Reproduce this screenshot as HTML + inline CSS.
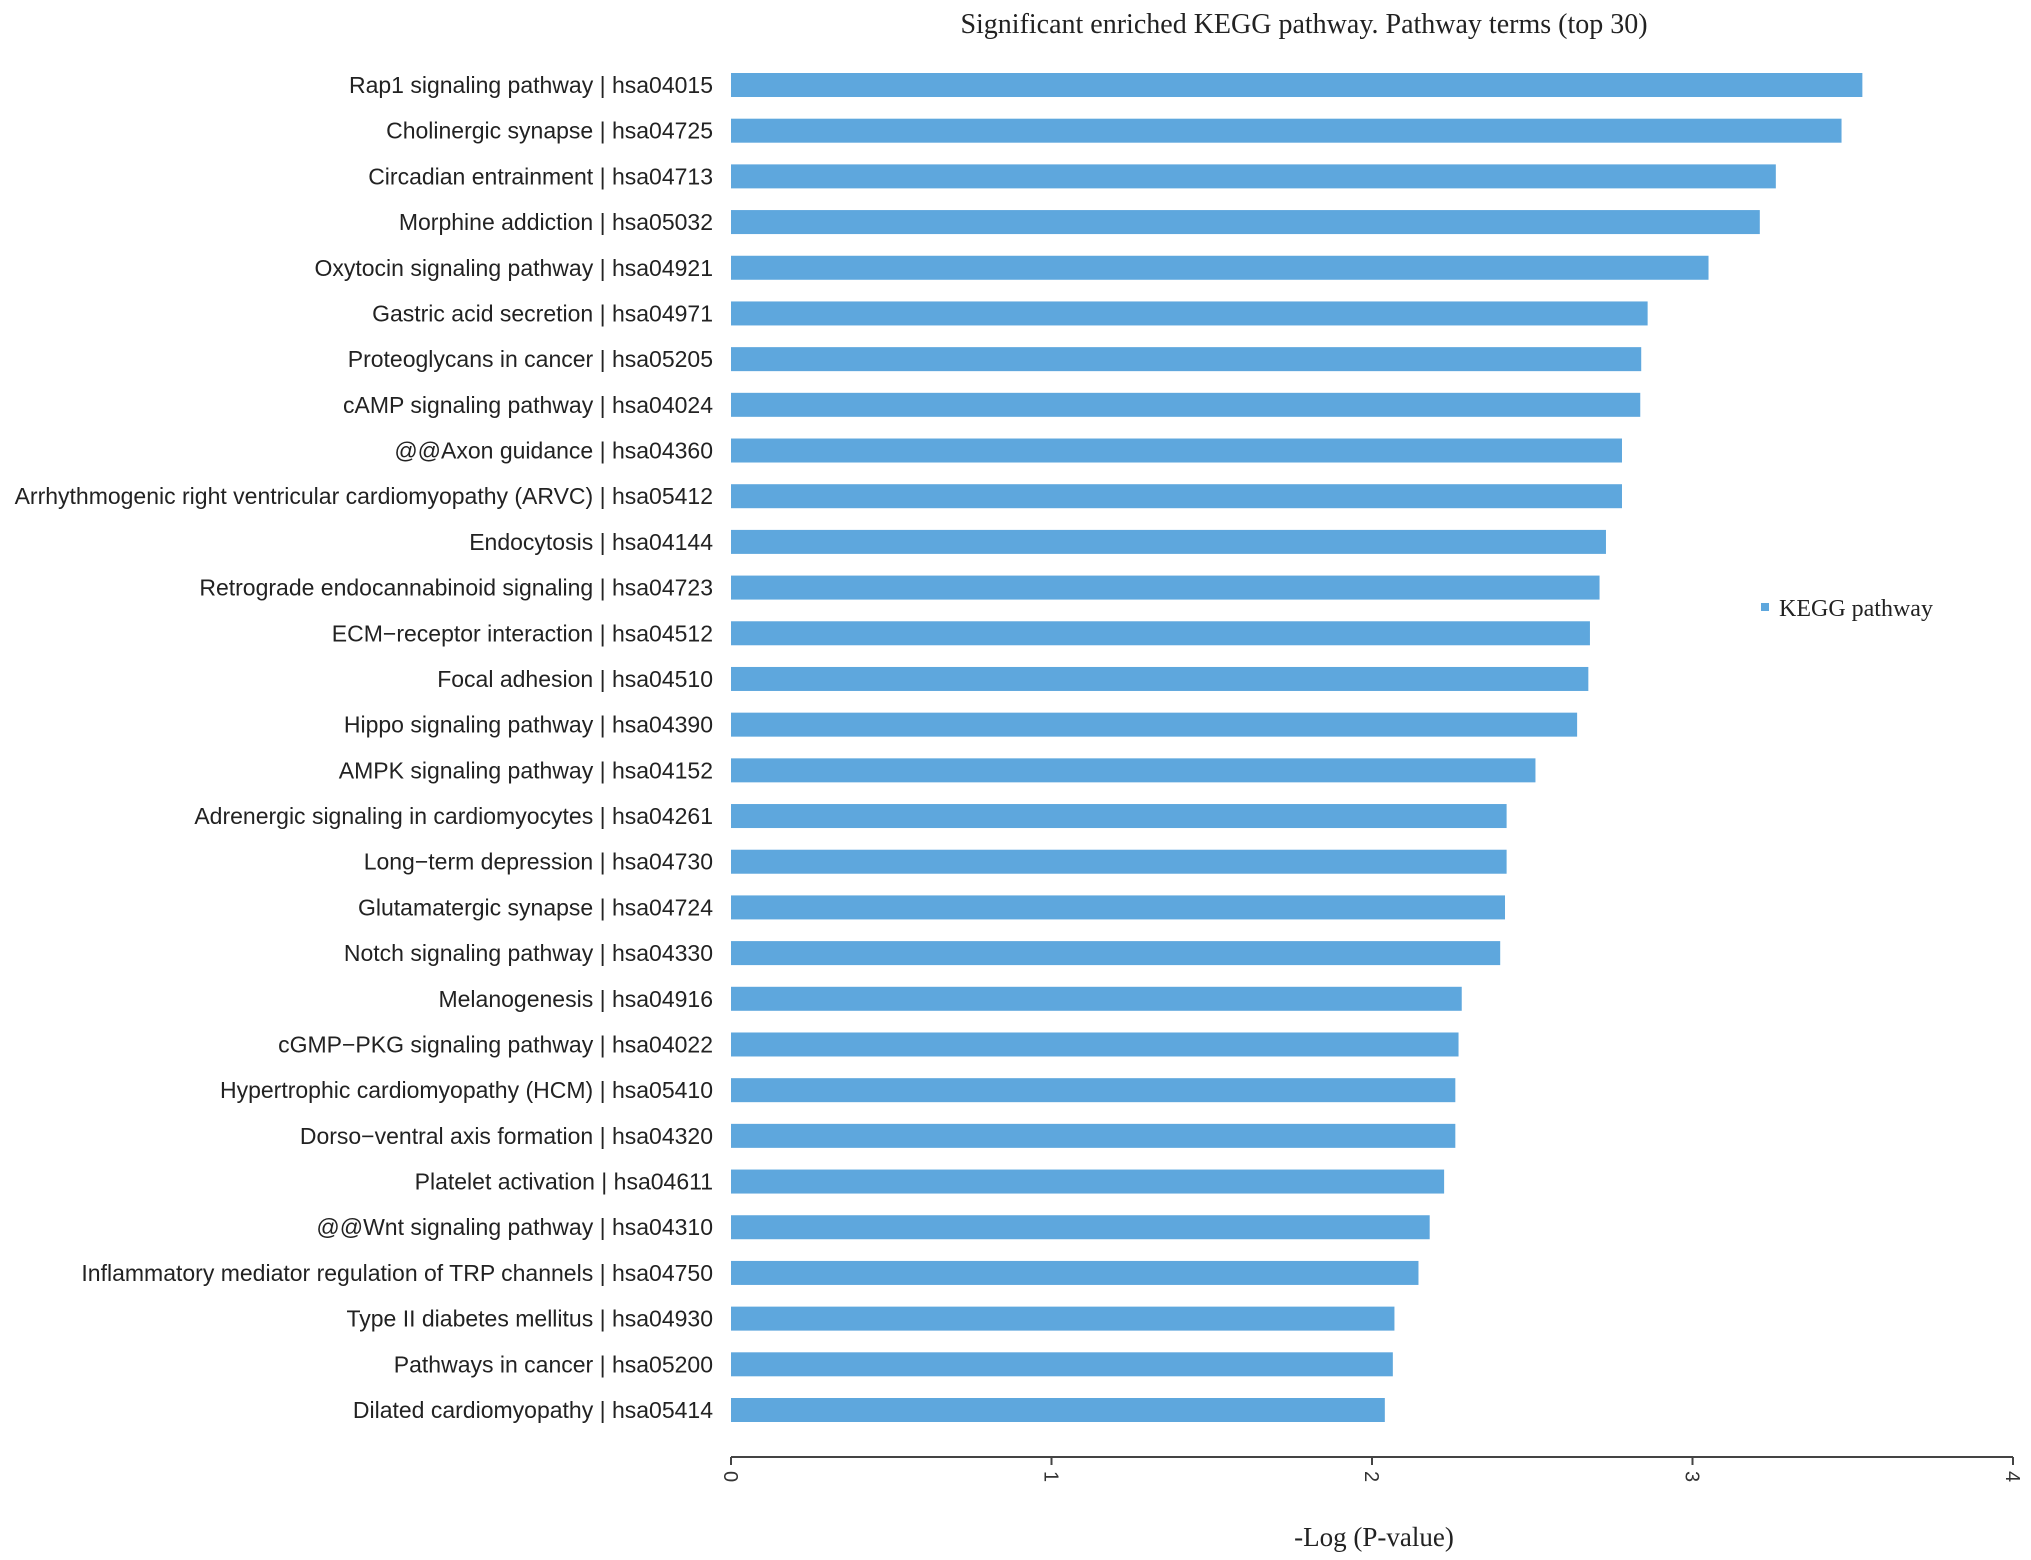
<!DOCTYPE html>
<html><head><meta charset="utf-8"><style>
body{margin:0;background:#fff;}
svg{display:block;}
</style></head><body>
<svg id="chart" width="2031" height="1560" xmlns="http://www.w3.org/2000/svg">
<text x="1304" y="33" text-anchor="middle" font-family="Liberation Serif, serif" font-size="28" fill="#222">Significant enriched KEGG pathway. Pathway terms (top 30)</text>
<g id="bars"></g>
<g id="axis"></g>
<g>
<rect x="1761" y="603" width="8" height="8" fill="#5ea7dd"/>
<text x="1779" y="616" font-family="Liberation Serif, serif" font-size="24" fill="#222">KEGG pathway</text>
</g>
<text x="1374" y="1546" text-anchor="middle" font-family="Liberation Serif, serif" font-size="27" fill="#222">-Log  (P-value)</text>
</svg>
<script>
const categories=["Rap1 signaling pathway | hsa04015","Cholinergic synapse | hsa04725","Circadian entrainment | hsa04713","Morphine addiction | hsa05032","Oxytocin signaling pathway | hsa04921","Gastric acid secretion | hsa04971","Proteoglycans in cancer | hsa05205","cAMP signaling pathway | hsa04024","@@Axon guidance | hsa04360","Arrhythmogenic right ventricular cardiomyopathy (ARVC) | hsa05412","Endocytosis | hsa04144","Retrograde endocannabinoid signaling | hsa04723","ECM\u2212receptor interaction | hsa04512","Focal adhesion | hsa04510","Hippo signaling pathway | hsa04390","AMPK signaling pathway | hsa04152","Adrenergic signaling in cardiomyocytes | hsa04261","Long\u2212term depression | hsa04730","Glutamatergic synapse | hsa04724","Notch signaling pathway | hsa04330","Melanogenesis | hsa04916","cGMP\u2212PKG signaling pathway | hsa04022","Hypertrophic cardiomyopathy (HCM) | hsa05410","Dorso\u2212ventral axis formation | hsa04320","Platelet activation | hsa04611","@@Wnt signaling pathway | hsa04310","Inflammatory mediator regulation of TRP channels | hsa04750","Type II diabetes mellitus | hsa04930","Pathways in cancer | hsa05200","Dilated cardiomyopathy | hsa05414"];
const values=[3.53,3.465,3.26,3.21,3.05,2.86,2.84,2.837,2.78,2.78,2.73,2.71,2.68,2.675,2.64,2.51,2.42,2.42,2.415,2.40,2.28,2.27,2.26,2.26,2.225,2.18,2.145,2.07,2.065,2.04];
const ticks=[0,1,2,3,4];
const NS="http://www.w3.org/2000/svg";
const x0=731,x1=2013,xmax=4;
function xs(v){return x0+(x1-x0)*v/xmax;}
function ys(i){return 85+i*(1410-85)/(categories.length-1);}
const bars=document.getElementById('bars');
categories.forEach((c,i)=>{
  const r=document.createElementNS(NS,'rect');
  
  
  r.setAttribute('x',xs(0));r.setAttribute('y',ys(i)-12);
  r.setAttribute('width',xs(values[i])-xs(0));r.setAttribute('height',24);
  r.setAttribute('fill','#5ea7dd');
  bars.appendChild(r);
  const t=document.createElementNS(NS,'text');
  
  
  t.setAttribute('x',713);t.setAttribute('y',ys(i)+8);
  t.setAttribute('text-anchor','end');
  t.setAttribute('font-family','Liberation Sans, sans-serif');
  t.setAttribute('font-size','23');t.setAttribute('fill','#222');
  t.textContent=c;bars.appendChild(t);
});
const ax=document.getElementById('axis');
const ay=1457;
const l=document.createElementNS(NS,'line');


l.setAttribute('x1',xs(0));l.setAttribute('x2',xs(xmax));l.setAttribute('y1',ay);l.setAttribute('y2',ay);
l.setAttribute('stroke','#444');l.setAttribute('stroke-width','2');ax.appendChild(l);
ticks.forEach(v=>{
  const tk=document.createElementNS(NS,'line');
  
  
  tk.setAttribute('x1',xs(v));tk.setAttribute('x2',xs(v));tk.setAttribute('y1',ay);tk.setAttribute('y2',ay+8);
  tk.setAttribute('stroke','#444');tk.setAttribute('stroke-width','2');ax.appendChild(tk);
  const t=document.createElementNS(NS,'text');
  
  
  t.setAttribute('transform','translate('+(xs(v)-7)+','+(ay+14)+') rotate(90)');
  t.setAttribute('font-family','Liberation Sans, sans-serif');
  t.setAttribute('font-size','20');t.setAttribute('fill','#333');
  t.textContent=v;ax.appendChild(t);
});
</script>
</body></html>
